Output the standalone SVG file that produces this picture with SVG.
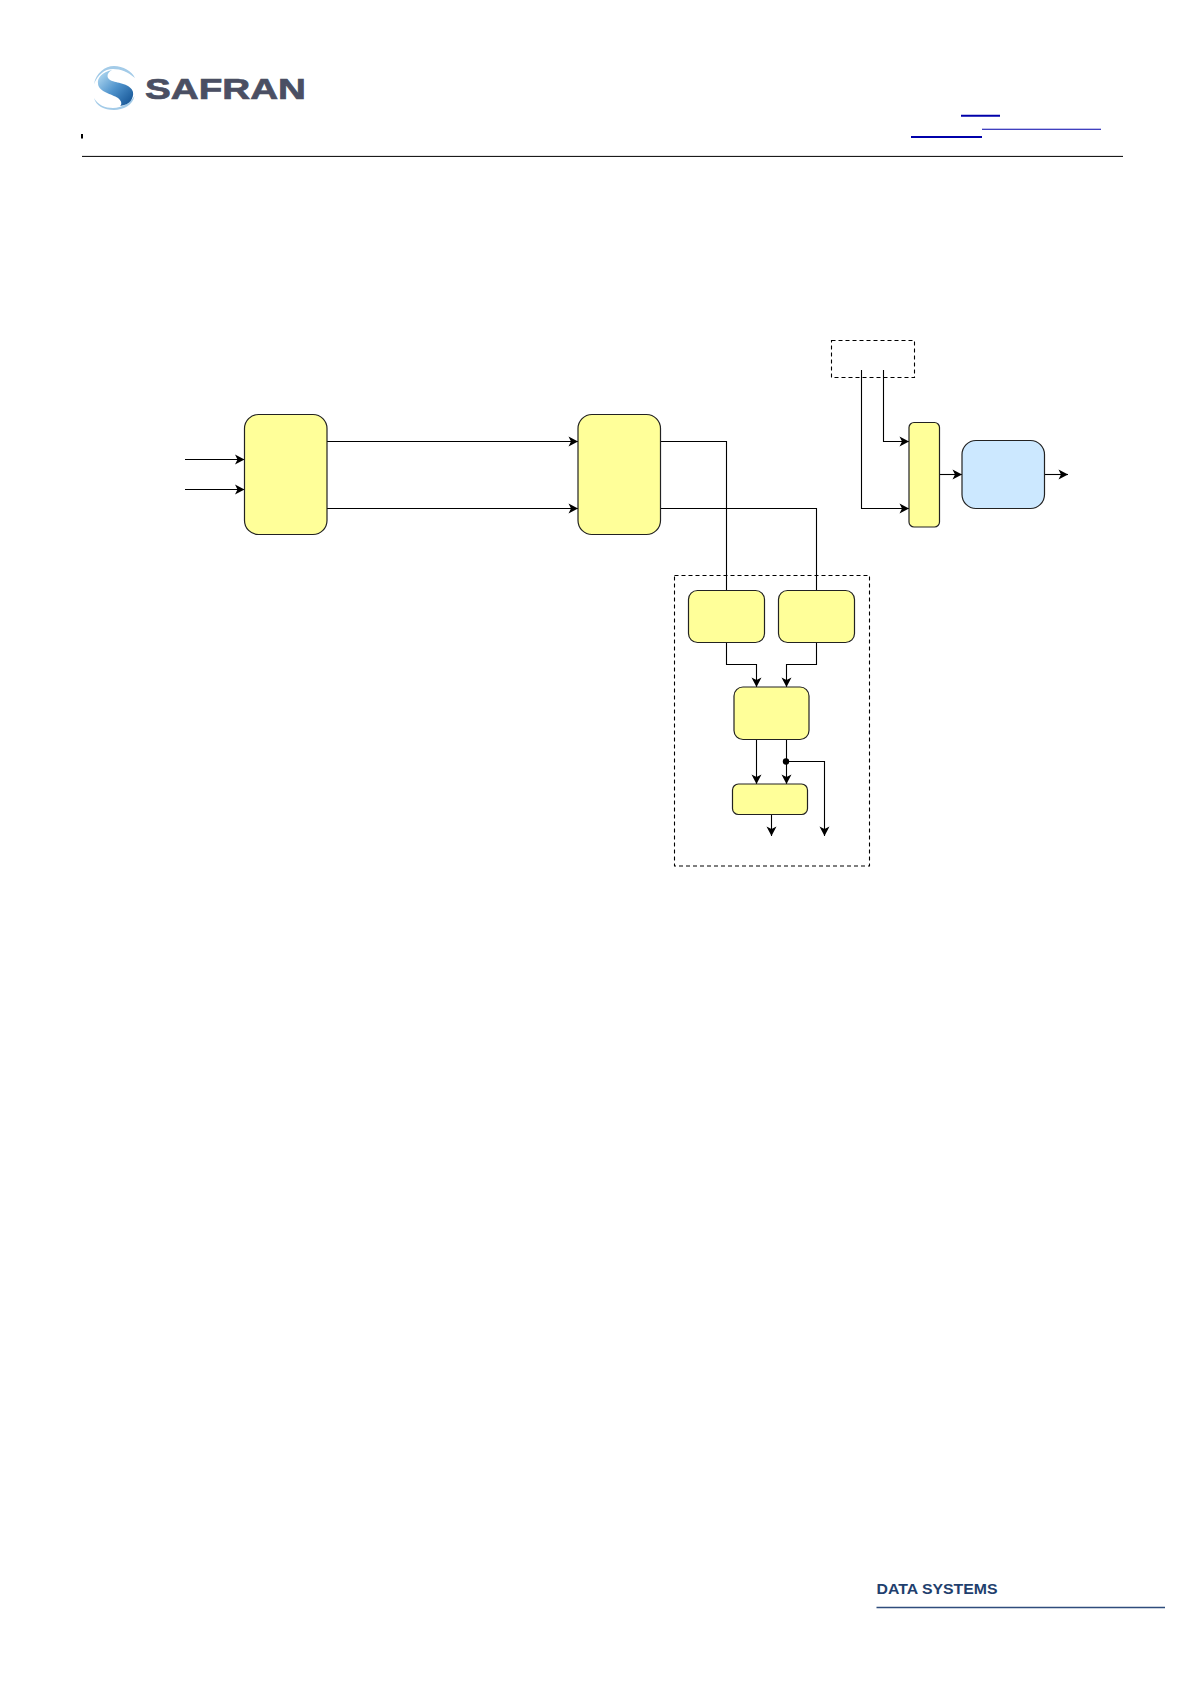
<svg xmlns="http://www.w3.org/2000/svg" width="1191" height="1684" viewBox="0 0 1191 1684">
<defs>
<marker id="arrow" markerUnits="userSpaceOnUse" markerWidth="12" markerHeight="12" viewBox="0 0 12 12" refX="10" refY="6" orient="auto">
<path d="M0.5,1 L10,6 L0.5,11 L3,6 Z" fill="#000"/>
</marker>
<linearGradient id="sGrad" x1="0.1" y1="0.1" x2="0.9" y2="0.9">
<stop offset="0" stop-color="#a9d3ee"/><stop offset="0.5" stop-color="#4f93cc"/><stop offset="1" stop-color="#1a5a9a"/>
</linearGradient>
</defs>
<style>
.y{fill:#ffff99;stroke:#222;stroke-width:1.2}
.b{fill:#cce8ff;stroke:#222;stroke-width:1.2}
.d{fill:none;stroke:#000;stroke-width:1.1;stroke-dasharray:4 3}
.c{fill:none;stroke:#000;stroke-width:1.1}
.a{marker-end:url(#arrow)}
.u{stroke:#0000aa;fill:none}
</style>
<rect width="1191" height="1684" fill="#fff"/>
<g id="logo">
<path d="M94,84 C96,73 105,66 114,66 C123,66 132,71 135,78 C128,72 121,69 113,69 C104,69 98,75 94,84 Z" fill="#a3cbe8"/>
<path d="M94,98 C98,105 105,108 113,108 C122,108 130,103 134.500,96 C133,105 123,110 114,110 C104,110 96,106 94,98 Z" fill="#a3cbe8"/>
<path d="M112,70 C102,72 97,78 98,84 C99,92 112,94 118,98 C122,101 122,105 120,106 C130,105 134,98 133,92 C131,84 118,83 112,81 C106,79 106,73 112,70 Z" fill="url(#sGrad)"/>
<text x="145" y="99.200" font-family="'Liberation Sans',Arial,sans-serif" font-weight="700" font-size="29.500" fill="#4a4f63" stroke="#4a4f63" stroke-width="0.7" textLength="161" lengthAdjust="spacingAndGlyphs">SAFRAN</text>
</g>
<g id="header">
<rect x="81" y="134" width="2" height="4.500" fill="#000"/>
<line x1="82" y1="156.400" x2="1123" y2="156.400" stroke="#000" stroke-width="1"/>
<line class="u" x1="961" y1="115.700" x2="1000" y2="115.700" stroke-width="2"/>
<line class="u" x1="982" y1="129.300" x2="1101" y2="129.300" stroke-width="1.100"/>
<line class="u" x1="911" y1="137" x2="982" y2="137" stroke-width="2"/>
</g>
<g id="connectors">
<path class="c a" d="M185,459.500 H244.500"/>
<path class="c a" d="M185,489.500 H244.500"/>
<path class="c a" d="M327,441.500 H578"/>
<path class="c a" d="M327,508.500 H578"/>
<path class="c" d="M660.500,441.500 H726.500 V590.500"/>
<path class="c" d="M660.500,508.500 H816.500 V590.500"/>
<path class="c a" d="M726.500,642.500 V664.500 H756.500 V687"/>
<path class="c a" d="M816.500,642.500 V664.500 H786.500 V687"/>
<path class="c a" d="M756.500,739.500 V784"/>
<path class="c a" d="M786.500,739.500 V784"/>
<path class="c a" d="M786.500,761.500 H824.500 V836"/>
<path class="c a" d="M771.500,814.500 V836"/>
<circle cx="786" cy="761.500" r="3.200" fill="#000"/>
<path class="c a" d="M861.500,370 V508.500 H909"/>
<path class="c a" d="M883.500,370 V441.500 H909"/>
<path class="c a" d="M939.500,474.500 H962"/>
<path class="c a" d="M1044.500,474.500 H1068"/>
</g>
<g id="node-1"><rect class="y" x="244.500" y="414.500" width="82.500" height="120" rx="14"/></g>
<g id="node-2"><rect class="y" x="578" y="414.500" width="82.500" height="120" rx="14"/></g>
<g id="node-group"><rect class="d" x="674.500" y="575.500" width="195" height="290.500"/></g>
<g id="node-3"><rect class="y" x="688.500" y="590.500" width="76" height="52" rx="9"/></g>
<g id="node-4"><rect class="y" x="778.500" y="590.500" width="76" height="52" rx="9"/></g>
<g id="node-5"><rect class="y" x="734" y="687" width="75" height="52.500" rx="9"/></g>
<g id="node-6"><rect class="y" x="732.500" y="784" width="75" height="30.500" rx="6"/></g>
<g id="node-7"><rect class="d" x="831.500" y="340.500" width="83" height="37"/></g>
<g id="node-8"><rect class="y" x="909" y="422.500" width="30.500" height="104.500" rx="5"/></g>
<g id="node-9"><rect class="b" x="962" y="440.500" width="82.500" height="68" rx="14"/></g>
<g id="footer">
<text x="876.500" y="1594" font-family="'Liberation Sans',Arial,sans-serif" font-weight="700" font-size="15" fill="#1f3f6e" textLength="121" lengthAdjust="spacingAndGlyphs">DATA SYSTEMS</text>
<line x1="876.500" y1="1607.400" x2="1165" y2="1607.400" stroke="#2f4d7c" stroke-width="1.500"/>
</g>
</svg>
